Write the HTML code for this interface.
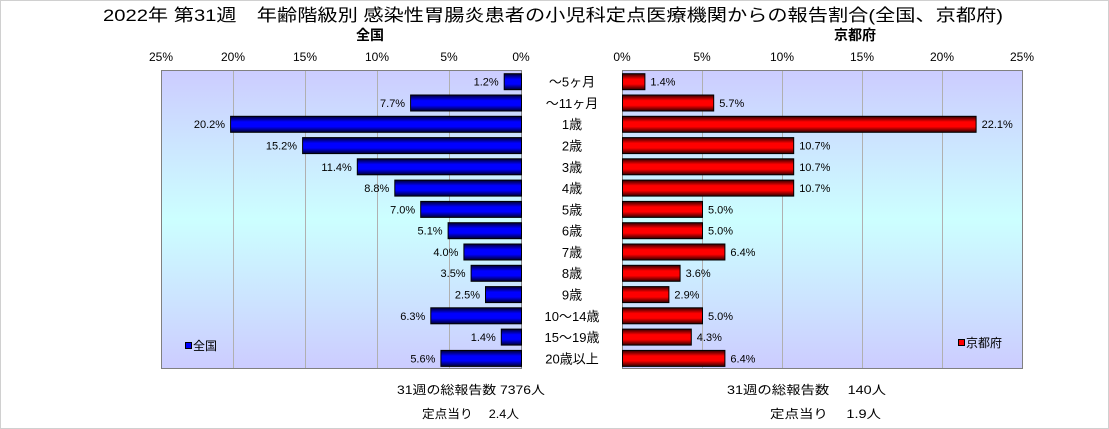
<!DOCTYPE html>
<html><head><meta charset="utf-8"><style>
html,body{margin:0;padding:0;background:#fff}
svg{display:block;font-family:"Liberation Sans","Noto Sans CJK JP",sans-serif}
</style></head><body>
<svg width="1109" height="429" viewBox="0 0 1109 429" xmlns="http://www.w3.org/2000/svg">
<defs>
<linearGradient id="bg" x1="0" y1="0" x2="0" y2="1">
<stop offset="0" stop-color="#ccccff"/><stop offset="0.5" stop-color="#ccffff"/><stop offset="1" stop-color="#ccccff"/>
</linearGradient>
<linearGradient id="bl" x1="0" y1="0" x2="0" y2="1">
<stop offset="0" stop-color="#000030"/><stop offset="0.35" stop-color="#0000ff"/><stop offset="0.65" stop-color="#0000ff"/><stop offset="1" stop-color="#000030"/>
</linearGradient>
<linearGradient id="rd" x1="0" y1="0" x2="0" y2="1">
<stop offset="0" stop-color="#300000"/><stop offset="0.35" stop-color="#ff0000"/><stop offset="0.65" stop-color="#ff0000"/><stop offset="1" stop-color="#300000"/>
</linearGradient>
</defs>
<rect x="0.5" y="0.5" width="1108" height="428" fill="#fff" stroke="#d0d0d0"/>
<text x="103" y="21" font-size="17" textLength="900" lengthAdjust="spacingAndGlyphs">2022年 第31週　年齢階級別 感染性胃腸炎患者の小児科定点医療機関からの報告割合(全国、京都府)</text>
<text x="370" y="40" font-size="14" font-weight="bold" text-anchor="middle">全国</text>
<text x="855" y="40" font-size="14" font-weight="bold" text-anchor="middle">京都府</text>
<g font-size="12" text-anchor="middle">
<text x="161" y="61">25%</text><text x="233" y="61">20%</text><text x="305" y="61">15%</text><text x="377" y="61">10%</text><text x="449" y="61">5%</text><text x="521" y="61">0%</text>
<text x="622" y="61">0%</text><text x="702" y="61">5%</text><text x="782" y="61">10%</text><text x="862" y="61">15%</text><text x="942" y="61">20%</text><text x="1022" y="61">25%</text>
</g>
<rect x="161.5" y="70.5" width="360" height="298" fill="url(#bg)" stroke="#808080"/>
<rect x="622.5" y="70.5" width="400" height="298" fill="url(#bg)" stroke="#808080"/>
<g stroke="#b0b0b0">
<line x1="233.5" y1="71" x2="233.5" y2="368"/><line x1="305.5" y1="71" x2="305.5" y2="368"/><line x1="377.5" y1="71" x2="377.5" y2="368"/><line x1="449.5" y1="71" x2="449.5" y2="368"/>
<line x1="702.5" y1="71" x2="702.5" y2="368"/><line x1="782.5" y1="71" x2="782.5" y2="368"/><line x1="862.5" y1="71" x2="862.5" y2="368"/><line x1="942.5" y1="71" x2="942.5" y2="368"/>
</g>
<g stroke="#000" fill="url(#bl)">
<rect x="504.2" y="73.7" width="17.3" height="16"/>
<rect x="410.6" y="95.0" width="110.9" height="16"/>
<rect x="230.6" y="116.3" width="290.9" height="16"/>
<rect x="302.6" y="137.6" width="218.9" height="16"/>
<rect x="357.3" y="158.8" width="164.2" height="16"/>
<rect x="394.8" y="180.1" width="126.7" height="16"/>
<rect x="420.7" y="201.4" width="100.8" height="16"/>
<rect x="448.1" y="222.7" width="73.4" height="16"/>
<rect x="463.9" y="244.0" width="57.6" height="16"/>
<rect x="471.1" y="265.3" width="50.4" height="16"/>
<rect x="485.5" y="286.6" width="36" height="16"/>
<rect x="430.8" y="307.8" width="90.7" height="16"/>
<rect x="501.3" y="329.1" width="20.2" height="16"/>
<rect x="440.9" y="350.4" width="80.6" height="16"/>
</g>
<g stroke="#000" fill="url(#rd)">
<rect x="622.5" y="73.7" width="22.4" height="16"/>
<rect x="622.5" y="95.0" width="91.2" height="16"/>
<rect x="622.5" y="116.3" width="353.6" height="16"/>
<rect x="622.5" y="137.6" width="171.2" height="16"/>
<rect x="622.5" y="158.8" width="171.2" height="16"/>
<rect x="622.5" y="180.1" width="171.2" height="16"/>
<rect x="622.5" y="201.4" width="80" height="16"/>
<rect x="622.5" y="222.7" width="80" height="16"/>
<rect x="622.5" y="244.0" width="102.4" height="16"/>
<rect x="622.5" y="265.3" width="57.6" height="16"/>
<rect x="622.5" y="286.6" width="46.4" height="16"/>
<rect x="622.5" y="307.8" width="80" height="16"/>
<rect x="622.5" y="329.1" width="68.8" height="16"/>
<rect x="622.5" y="350.4" width="102.4" height="16"/>
</g>
<g font-size="11" text-anchor="end">
<text x="498.7" y="85.6">1.2%</text>
<text x="405.1" y="106.9">7.7%</text>
<text x="225.1" y="128.2">20.2%</text>
<text x="297.1" y="149.5">15.2%</text>
<text x="351.8" y="170.8">11.4%</text>
<text x="389.3" y="192.1">8.8%</text>
<text x="415.2" y="213.4">7.0%</text>
<text x="442.6" y="234.6">5.1%</text>
<text x="458.4" y="255.9">4.0%</text>
<text x="465.6" y="277.2">3.5%</text>
<text x="480" y="298.5">2.5%</text>
<text x="425.3" y="319.8">6.3%</text>
<text x="495.8" y="341.1">1.4%</text>
<text x="435.4" y="362.4">5.6%</text>
</g>
<g font-size="11">
<text x="650.4" y="85.6">1.4%</text>
<text x="719.2" y="106.9">5.7%</text>
<text x="981.6" y="128.2">22.1%</text>
<text x="799.2" y="149.5">10.7%</text>
<text x="799.2" y="170.8">10.7%</text>
<text x="799.2" y="192.1">10.7%</text>
<text x="708" y="213.4">5.0%</text>
<text x="708" y="234.6">5.0%</text>
<text x="730.4" y="255.9">6.4%</text>
<text x="685.6" y="277.2">3.6%</text>
<text x="674.4" y="298.5">2.9%</text>
<text x="708" y="319.8">5.0%</text>
<text x="696.8" y="341.1">4.3%</text>
<text x="730.4" y="362.4">6.4%</text>
</g>
<g font-size="13" text-anchor="middle">
<text x="572" y="86.6">～5ヶ月</text>
<text x="572" y="107.9">～11ヶ月</text>
<text x="572" y="129.2">1歳</text>
<text x="572" y="150.5">2歳</text>
<text x="572" y="171.8">3歳</text>
<text x="572" y="193.1">4歳</text>
<text x="572" y="214.4">5歳</text>
<text x="572" y="235.6">6歳</text>
<text x="572" y="256.9">7歳</text>
<text x="572" y="278.2">8歳</text>
<text x="572" y="299.5">9歳</text>
<text x="572" y="320.8">10～14歳</text>
<text x="572" y="342.1">15～19歳</text>
<text x="572" y="363.4">20歳以上</text>
</g>
<rect x="185.5" y="342.5" width="6" height="6" fill="#0000ff" stroke="#000"/>
<text x="193" y="350" font-size="12">全国</text>
<rect x="958.5" y="339.5" width="6" height="6" fill="#ff0000" stroke="#000"/>
<text x="966" y="347" font-size="12">京都府</text>
<g font-size="12">
<text x="397" y="394" textLength="148" lengthAdjust="spacingAndGlyphs">31週の総報告数  7376人</text>
<text x="422" y="418" textLength="97" lengthAdjust="spacingAndGlyphs">定点当り　  2.4人</text>
<text x="727" y="394" textLength="159" lengthAdjust="spacingAndGlyphs">31週の総報告数　  140人</text>
<text x="770" y="418" textLength="111" lengthAdjust="spacingAndGlyphs">定点当り　  1.9人</text>
</g>
</svg>
</body></html>
